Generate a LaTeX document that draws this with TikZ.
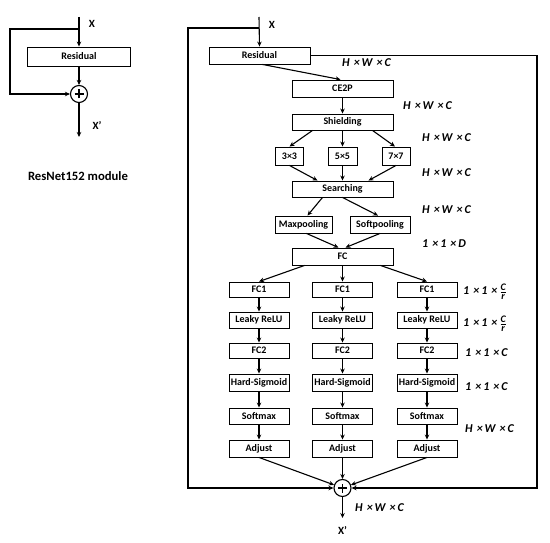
\documentclass[tikz,border=0pt]{standalone}
\usepackage{fontspec}
\setmainfont{Carlito}
\usetikzlibrary{arrows.meta,calc}
\newcommand{\dimHWC}{H\hspace{4pt}×\hspace{2pt}W\hspace{4pt}×\hspace{2pt}C}
\newcommand{\dimfrac}{1\hspace{4pt}×\hspace{2pt}1\hspace{4pt}×\hspace{2pt}\raisebox{-0.6pt}{$\frac{\mbox{\fontsize{10}{10}\selectfont\bfseries\itshape C}}{\mbox{\fontsize{10}{10}\selectfont\bfseries\itshape r}}$}}
\begin{document}
\begin{tikzpicture}[x=1pt,y=-1pt,
  blk/.style={draw,line width=0.9pt,inner sep=0pt,minimum height=16pt,font=\fontsize{10}{10}\selectfont\bfseries},
  arr/.style={line width=1.1pt,-{Stealth[length=5pt,width=4.5pt]}},
  dim/.style={anchor=west,font=\fontsize{12}{12}\selectfont\bfseries\itshape,inner sep=0pt},
  lbl/.style={font=\fontsize{11}{11}\selectfont\bfseries,inner sep=0pt},
  plus/.style={circle,draw,line width=1.1pt,minimum size=17pt,inner sep=0pt,
    path picture={
      \draw[line width=1.2pt] ([xshift=-4.5pt]path picture bounding box.center) -- ([xshift=4.5pt]path picture bounding box.center);
      \draw[line width=1.2pt] ([yshift=-4.5pt]path picture bounding box.center) -- ([yshift=4.5pt]path picture bounding box.center);}}
]
\useasboundingbox (0,0) rectangle (550,543);

% ---------------- Left module ----------------
\coordinate (lx) at (79,17);
\coordinate (ls) at (79,29);
\coordinate (lc) at (10,29);
\coordinate (lo) at (79,137);
\node[blk,minimum width=103pt,minimum height=19pt] (lres) at (79,56.5) {Residual};
\node[plus] (lp) at (79,94) {};
\draw[arr] (lx) -- (lres.north);
\draw[arr] (ls) -- (lc) |- (lp.west);
\draw[arr] (lres.south) -- (lp.north);
\draw[arr] (lp.south) -- (lo);
\node[lbl] (lxl) at (92,24) {X};
\node[lbl] (lxp) at (97,125) {X’};
\node[font=\fontsize{12.7}{12.7}\selectfont\bfseries,inner sep=0pt] (lcap) at (78,176) {ResNet152 module};

% ---------------- Right module ----------------
\coordinate (rx) at (259,17);
\coordinate (rs) at (259,28);
\coordinate (rc) at (188,28);
\coordinate (rr) at (537,55.5);
\coordinate (ro) at (342.5,518);

\node[blk,minimum width=101pt,minimum height=17pt] (rres) at (259.5,55.5) {Residual};
\node[blk,minimum width=101pt,minimum height=17pt] (ce2p) at (342.5,88.5) {CE2P};
\node[blk,minimum width=101pt] (shield) at (342.5,122) {Shielding};
\node[blk,minimum width=28pt,minimum height=18pt] (k3) at (289.5,156) {3×3};
\node[blk,minimum width=29pt,minimum height=18pt] (k5) at (342.5,156) {5×5};
\node[blk,minimum width=28pt,minimum height=18pt] (k7) at (396,156) {7×7};
\node[blk,minimum width=101pt] (search) at (342.5,189) {Searching};
\node[blk,minimum width=57pt,minimum height=17pt] (maxp) at (303.5,224.5) {Maxpooling};
\node[blk,minimum width=60pt,minimum height=17pt] (softp) at (380,224.5) {Softpooling};
\node[blk,minimum width=101pt,minimum height=17pt] (fc) at (342.5,256.5) {FC};

\foreach \c/\x in {a/259,b/342.5,c/427}{
  \node[blk,minimum width=60pt,minimum height=15pt] (fc1\c) at (\x,289.5) {FC1};
  \node[blk,minimum width=60pt] (lr\c) at (\x,320) {Leaky ReLU};
  \node[blk,minimum width=60pt,minimum height=15pt] (fc2\c) at (\x,350.5) {FC2};
  \node[blk,minimum width=60pt,minimum height=17pt] (hs\c) at (\x,382.5) {Hard-Sigmoid};
  \node[blk,minimum width=60pt] (sm\c) at (\x,416) {Softmax};
  \node[blk,minimum width=60pt,minimum height=17pt] (adj\c) at (\x,448.5) {Adjust};
  \draw[arr] (fc1\c) -- (lr\c);
  \draw[arr] (lr\c) -- (fc2\c);
  \draw[arr] (fc2\c) -- (hs\c);
  \draw[arr] (hs\c) -- (sm\c);
  \draw[arr] (sm\c) -- (adj\c);
}
\node[plus] (rp) at (342.5,488) {};

% connectors
\draw[arr] (rx) -- (rres.north);
\draw[arr] (rs) -- (rc) |- (rp.west);
\draw[arr] (rres.east) -- (rr) |- (rp.east);
\draw[arr] ($(rres.south)+(3,0)$) -- ($(ce2p.north)+(-2,0)$);
\draw[arr] (ce2p) -- (shield);
\draw[arr] ($(shield.south)+(-30,0)$) -- ($(k3.north)+(0,0)$);
\draw[arr] (shield) -- (k5);
\draw[arr] ($(shield.south)+(30,0)$) -- ($(k7.north)+(-1,0)$);
\draw[arr] (k3.south) -- ($(search.north)+(-25,0)$);
\draw[arr] (k5) -- (search);
\draw[arr] (k7.south) -- ($(search.north)+(26,0)$);
\draw[arr] ($(search.south)+(-20,0)$) -- ($(maxp.north)+(4,0)$);
\draw[arr] ($(search.south)+(0,0)$) -- ($(softp.north)+(-2,0)$);
\draw[arr] ($(maxp.south)+(3,0)$) -- ($(fc.north)+(-4,0)$);
\draw[arr] (softp.south) -- ($(fc.north)+(3,0)$);
\draw[arr] ($(fc.south)+(-38,0)$) -- (fc1a.north);
\draw[arr] (fc) -- (fc1b);
\draw[arr] ($(fc.south)+(38,0)$) -- (fc1c.north);
\draw[arr] (adja.south) -- (rp);
\draw[arr] (adjb) -- (rp);
\draw[arr] (adjc.south) -- (rp);
\draw[arr] (rp.south) -- (ro);

% labels
\node[lbl] (rxl) at (272,25) {X};
\node[lbl] (rxp) at (342.5,530) {X’};
\node[dim] (d1) at (342,63) {\dimHWC};
\node[dim] (d2) at (403,106) {\dimHWC};
\node[dim] (d3) at (422,138) {\dimHWC};
\node[dim] (d4) at (422,173) {\dimHWC};
\node[dim] (d5) at (422,210) {\dimHWC};
\node[dim] (d6) at (422,244) {1\hspace{4pt}×\hspace{2pt}1\hspace{4pt}×\hspace{2pt}D};
\node[dim] (d7) at (463,292) {\dimfrac};
\node[dim] (d8) at (463,324) {\dimfrac};
\node[dim] (d9) at (465,353) {1\hspace{4pt}×\hspace{2pt}1\hspace{4pt}×\hspace{2pt}C};
\node[dim] (d10) at (465,387) {1\hspace{4pt}×\hspace{2pt}1\hspace{4pt}×\hspace{2pt}C};
\node[dim] (d11) at (465,429) {\dimHWC};
\node[dim] (d12) at (355,508) {\dimHWC};
\end{tikzpicture}
\end{document}
